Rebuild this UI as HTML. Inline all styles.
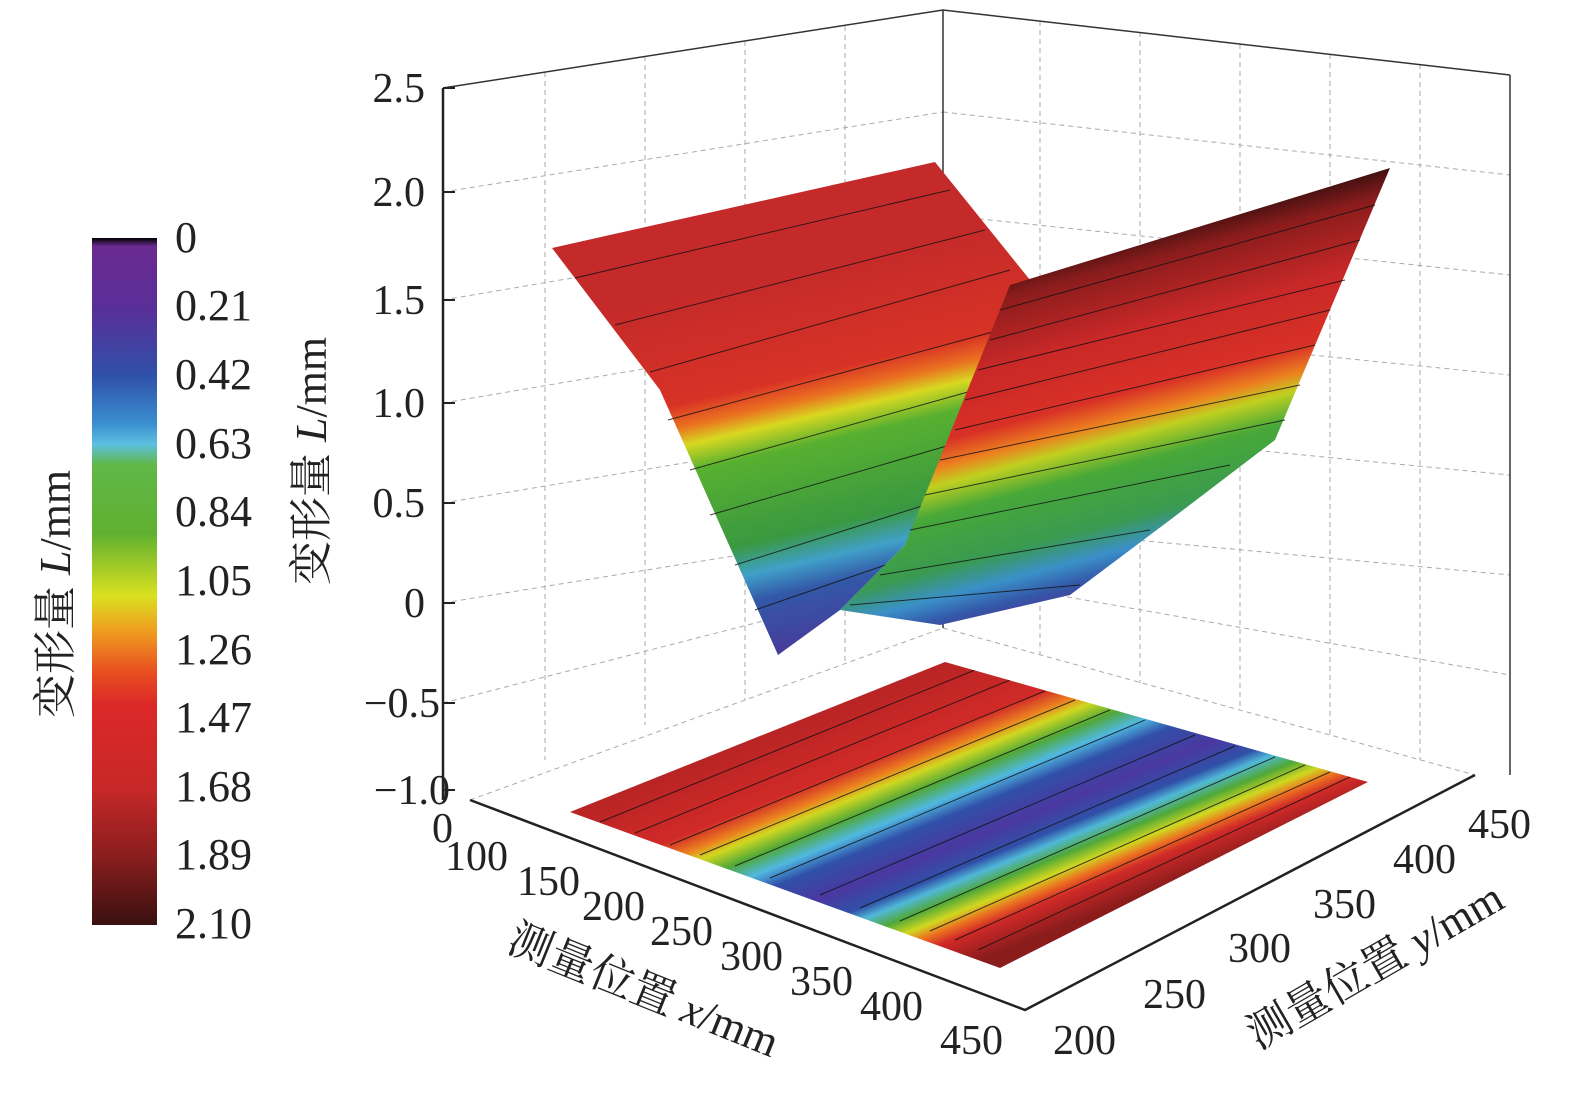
<!DOCTYPE html>
<html><head><meta charset="utf-8"><style>
html,body{margin:0;padding:0;background:#fff}
svg{display:block}
text{font-family:"Liberation Serif","Noto Serif CJK SC",serif;fill:#222}
</style></head><body>
<svg width="1575" height="1093" viewBox="0 0 1575 1093" xmlns="http://www.w3.org/2000/svg">
<defs>
<linearGradient id="cb" x1="0" y1="0" x2="0" y2="1">
<stop offset="0" stop-color="#000"/><stop offset="0.012" stop-color="#6a2a90"/>
<stop offset="0.1" stop-color="#5a2e98"/><stop offset="0.2" stop-color="#3050a8"/>
<stop offset="0.27" stop-color="#3a8ed0"/><stop offset="0.3" stop-color="#5cc0e0"/>
<stop offset="0.33" stop-color="#60b848"/><stop offset="0.43" stop-color="#60b030"/>
<stop offset="0.52" stop-color="#d8e020"/><stop offset="0.57" stop-color="#f0a020"/>
<stop offset="0.63" stop-color="#e85020"/><stop offset="0.68" stop-color="#dc2828"/>
<stop offset="0.8" stop-color="#c82828"/><stop offset="0.9" stop-color="#8a1e1e"/>
<stop offset="1" stop-color="#3a1010"/>
</linearGradient>
<linearGradient id="lg" gradientUnits="userSpaceOnUse" x1="700" y1="290" x2="785" y2="660">
<stop offset="0" stop-color="#c42a2a"/><stop offset="0.28" stop-color="#d83226"/>
<stop offset="0.34" stop-color="#ea7020"/><stop offset="0.39" stop-color="#d8d820"/>
<stop offset="0.46" stop-color="#58b030"/><stop offset="0.68" stop-color="#3a9840"/>
<stop offset="0.76" stop-color="#40a0c8"/><stop offset="0.83" stop-color="#3358a8"/>
<stop offset="1" stop-color="#4a3898"/>
</linearGradient>
<linearGradient id="rg" gradientUnits="userSpaceOnUse" x1="1120" y1="230" x2="1210" y2="570">
<stop offset="0" stop-color="#2a0c0c"/><stop offset="0.1" stop-color="#8a1c1c"/>
<stop offset="0.28" stop-color="#c82828"/><stop offset="0.45" stop-color="#d83026"/>
<stop offset="0.52" stop-color="#ec8020"/><stop offset="0.57" stop-color="#c0d020"/>
<stop offset="0.65" stop-color="#48a838"/><stop offset="0.8" stop-color="#3a9a50"/>
<stop offset="0.88" stop-color="#3a90c8"/><stop offset="0.94" stop-color="#3458a8"/>
<stop offset="1" stop-color="#4a3898"/>
</linearGradient>
<linearGradient id="fg" gradientUnits="userSpaceOnUse" x1="757" y1="737" x2="865" y2="1006">
<stop offset="0" stop-color="#b82424"/><stop offset="0.22" stop-color="#d02a28"/>
<stop offset="0.28" stop-color="#ec8020"/><stop offset="0.32" stop-color="#d0d820"/>
<stop offset="0.38" stop-color="#50a838"/><stop offset="0.44" stop-color="#50b8e0"/>
<stop offset="0.5" stop-color="#3050a8"/><stop offset="0.6" stop-color="#4a38a0"/>
<stop offset="0.68" stop-color="#3050a8"/><stop offset="0.72" stop-color="#50b8d8"/>
<stop offset="0.77" stop-color="#50a838"/><stop offset="0.82" stop-color="#d0d820"/>
<stop offset="0.86" stop-color="#ec7020"/><stop offset="0.9" stop-color="#d02a28"/>
<stop offset="1" stop-color="#8a1c1c"/>
</linearGradient>
<clipPath id="fc"><polygon points="570,812 945,662 1368,782 1000,968"/></clipPath>
</defs>

<!-- grid -->
<g stroke="#aaa" stroke-width="1" stroke-dasharray="5,4" fill="none">
<line x1="443" y1="192" x2="943" y2="112"/><line x1="443" y1="300" x2="943" y2="215"/>
<line x1="443" y1="403" x2="943" y2="318"/><line x1="443" y1="503" x2="943" y2="420"/>
<line x1="443" y1="603" x2="943" y2="522"/><line x1="443" y1="703" x2="943" y2="575"/>
<line x1="943" y1="112" x2="1510" y2="175"/><line x1="943" y1="215" x2="1510" y2="275"/>
<line x1="943" y1="318" x2="1510" y2="375"/><line x1="943" y1="420" x2="1510" y2="475"/>
<line x1="943" y1="522" x2="1510" y2="575"/><line x1="943" y1="575" x2="1510" y2="675"/>
<line x1="545" y1="72" x2="545" y2="760"/><line x1="645" y1="56" x2="645" y2="725"/>
<line x1="745" y1="41" x2="745" y2="700"/><line x1="845" y1="26" x2="845" y2="665"/>
<line x1="1040" y1="21" x2="1040" y2="655"/><line x1="1140" y1="32" x2="1140" y2="683"/>
<line x1="1240" y1="44" x2="1240" y2="710"/><line x1="1330" y1="54" x2="1330" y2="735"/>
<line x1="1420" y1="64" x2="1420" y2="760"/>
<line x1="470" y1="800" x2="943" y2="628"/><line x1="943" y1="628" x2="1475" y2="775"/>
</g>
<g stroke="#333" stroke-width="1.5" fill="none">
<polyline points="443,88 943,10 1510,75"/>
<line x1="943" y1="10" x2="943" y2="628"/>
<line x1="1510" y1="75" x2="1510" y2="775"/>
</g>
<g stroke="#222" stroke-width="2.5" fill="none">
<line x1="443" y1="88" x2="443" y2="800"/>
<polyline points="470,800 1025,1010 1475,775"/>
</g>
<g stroke="#222" stroke-width="2">
<line x1="443" y1="88" x2="455" y2="88"/><line x1="443" y1="192" x2="455" y2="192"/>
<line x1="443" y1="300" x2="455" y2="300"/><line x1="443" y1="403" x2="455" y2="403"/>
<line x1="443" y1="503" x2="455" y2="503"/><line x1="443" y1="603" x2="455" y2="603"/>
<line x1="443" y1="703" x2="455" y2="703"/><line x1="443" y1="790" x2="455" y2="790"/>
</g>
<g font-size="42" text-anchor="end">
<text x="425" y="102">2.5</text><text x="425" y="206">2.0</text><text x="425" y="314">1.5</text>
<text x="425" y="417">1.0</text><text x="425" y="517">0.5</text><text x="425" y="617">0</text>
<text x="440" y="717">−0.5</text><text x="450" y="804">−1.0</text>
</g>

<!-- floor -->
<polygon points="570,812 945,662 1368,782 1000,968" fill="url(#fg)"/>
<g stroke="#111" stroke-width="1" fill="none" opacity="0.8" clip-path="url(#fc)">
<line x1="600" y1="822" x2="975" y2="670"/><line x1="635" y1="833" x2="1010" y2="680"/>
<line x1="670" y1="845" x2="1045" y2="691"/><line x1="700" y1="855" x2="1075" y2="700"/>
<line x1="735" y1="866" x2="1110" y2="710"/><line x1="770" y1="878" x2="1145" y2="720"/>
<line x1="820" y1="895" x2="1195" y2="735"/><line x1="860" y1="908" x2="1235" y2="746"/>
<line x1="900" y1="921" x2="1275" y2="757"/><line x1="930" y1="931" x2="1305" y2="765"/>
<line x1="955" y1="940" x2="1330" y2="772"/><line x1="978" y1="950" x2="1350" y2="777"/>
</g>

<!-- left plane -->
<polygon points="552,248 935,162 1030,280 905,545 840,610 778,655 660,390" fill="url(#lg)"/>
<g stroke="#111" stroke-width="1" fill="none" opacity="0.8">
<polyline points="575,278 950,190"/><polyline points="615,325 985,230"/>
<polyline points="650,372 1010,270"/><polyline points="668,420 1000,330"/>
<polyline points="690,470 975,390"/><polyline points="710,515 950,445"/>
<polyline points="735,565 925,505"/><polyline points="755,610 900,560"/>
</g>
<!-- right plane -->
<polygon points="1010,285 1390,168 1275,440 1170,520 1070,595 940,625 840,610 905,545" fill="url(#rg)"/>
<g stroke="#111" stroke-width="1" fill="none" opacity="0.8">
<polyline points="1000,310 1375,205"/><polyline points="990,340 1360,240"/>
<polyline points="978,370 1345,280"/><polyline points="965,400 1330,310"/>
<polyline points="955,430 1315,345"/><polyline points="940,460 1300,385"/>
<polyline points="925,495 1285,420"/><polyline points="910,530 1230,465"/>
<polyline points="880,575 1150,530"/><polyline points="850,605 1080,585"/>
</g>

<g font-size="42">
<text x="432" y="842">0</text><text x="445" y="870">100</text><text x="517" y="895">150</text>
<text x="582" y="920">200</text><text x="650" y="945">250</text><text x="720" y="970">300</text>
<text x="790" y="995">350</text><text x="860" y="1020">400</text><text x="940" y="1054">450</text>
<text x="1053" y="1054">200</text><text x="1143" y="1008">250</text><text x="1228" y="962">300</text>
<text x="1313" y="918">350</text><text x="1393" y="873">400</text><text x="1468" y="838">450</text>
</g>
<text font-size="44" transform="translate(505,950) rotate(22)">测量位置 <tspan font-style="italic">x</tspan>/mm</text>
<text font-size="44" transform="translate(1258,1050) rotate(-30)">测量位置 <tspan font-style="italic">y</tspan>/mm</text>
<text font-size="44" transform="translate(326,585) rotate(-90)">变形量 <tspan font-style="italic">L</tspan>/mm</text>

<rect x="92" y="238" width="65" height="687" fill="url(#cb)"/>
<g font-size="44">
<text x="175" y="252">0</text><text x="175" y="320">0.21</text><text x="175" y="389">0.42</text>
<text x="175" y="458">0.63</text><text x="175" y="526">0.84</text><text x="175" y="595">1.05</text>
<text x="175" y="664">1.26</text><text x="175" y="732">1.47</text><text x="175" y="801">1.68</text>
<text x="175" y="869">1.89</text><text x="175" y="938">2.10</text>
</g>
<text font-size="44" transform="translate(70,718) rotate(-90)">变形量 <tspan font-style="italic">L</tspan>/mm</text>
</svg>
</body></html>
